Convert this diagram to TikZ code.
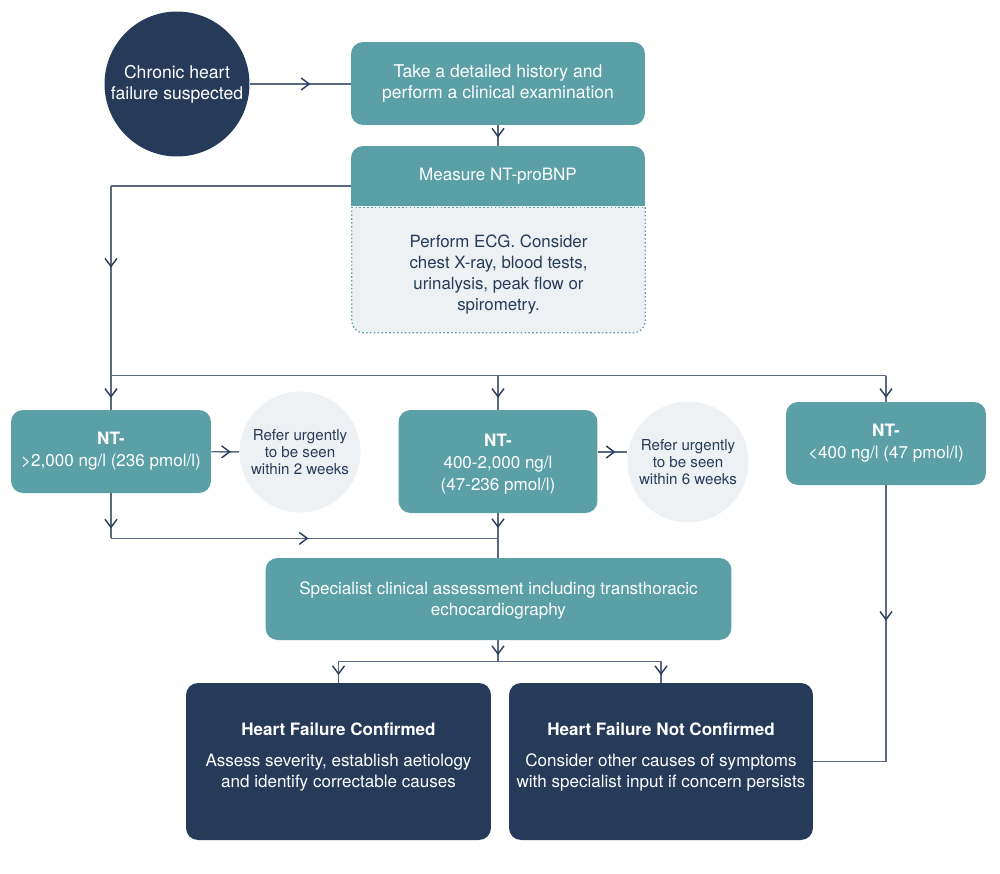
\documentclass[tikz,border=0pt]{standalone}
\usepackage{fontspec}
\setmainfont{TeX Gyre Heros}
\usetikzlibrary{arrows.meta,decorations.markings,calc,backgrounds}

\definecolor{tealc}{HTML}{5B9FA7}
\definecolor{navyc}{HTML}{263B59}
\definecolor{greyc}{HTML}{EEF1F4}
\definecolor{linec}{HTML}{5A6980}

\tikzset{
  basetext/.style={align=center, inner sep=0pt, font=\fontsize{9.7}{12.4}\selectfont},
  tealbox/.style={basetext, rectangle, rounded corners=0.24cm, fill=tealc, text=white},
  navybox/.style={basetext, rectangle, rounded corners=0.24cm, fill=navyc, text=white},
  navycirc/.style={basetext, circle, fill=navyc, text=white, font=\fontsize{10}{12}\selectfont},
  greycirc/.style={basetext, circle, fill=greyc, text=navyc, font=\fontsize{8.6}{9.8}\selectfont},
  link/.style={draw=linec, line width=0.8pt},
  midarrow/.style={postaction={decorate, decoration={markings,
      mark=at position #1 with {\arrow[navyc, line width=0.8pt]{Straight Barb[length=1.6mm,width=2.4mm]}}}}}
}

\begin{document}
\begin{tikzpicture}[x=0.02cm,y=-0.02cm]
\useasboundingbox (0,0) rectangle (1000,873);

% top row
\node[navycirc, minimum size=2.9cm] (suspect) at (177,84) {Chronic heart\\failure suspected};
\node[tealbox, minimum width=5.88cm, minimum height=1.66cm, font=\fontsize{10}{12}\selectfont] (history) at (498,83.5)
  {Take a detailed history and\\perform a clinical examination};
\node[tealbox, minimum width=5.88cm, minimum height=1.2cm] (measure) at (498,176) {Measure NT-proBNP};
\node[basetext, fill=greyc, rounded corners=0.24cm, text=navyc, minimum width=5.86cm, minimum height=2.5cm,
  font=\fontsize{9.6}{12}\selectfont] (tests) at (498.5,270)
  {\rule{0pt}{12.5pt}Perform ECG. Consider\\chest X-ray, blood tests,\\urinalysis, peak flow or\\spirometry.};
\begin{scope}[on background layer]
  \fill[tealc] (measure.west) rectangle (measure.south east);
  \fill[greyc] (tests.north west) rectangle (tests.east);
\end{scope}
\draw[tealc, line width=0.7pt, dash pattern=on 0.9pt off 1.3pt] (tests.north west) -- (tests.north east);
\draw[tealc, line width=0.7pt, dash pattern=on 0.9pt off 1.3pt, rounded corners=0.24cm]
  (tests.north east) -- (tests.south east) -- (tests.south west) -- (tests.north west);

% NT-proBNP levels
\node[tealbox, minimum width=4cm, minimum height=1.66cm] (high) at (111,451.5)
  {\textbf{NT-}\\>2,000 ng/l (236 pmol/l)};
\node[greycirc, minimum size=2.42cm] (refer2) at (300,452) {Refer urgently\\to be seen\\within 2 weeks};
\node[tealbox, minimum width=3.98cm, minimum height=2.06cm] (mid) at (498,461.5)
  {\rule{0pt}{10pt}\textbf{NT-}\\400-2,000 ng/l\\(47-236 pmol/l)};
\node[greycirc, minimum size=2.42cm] (refer6) at (688,462) {Refer urgently\\to be seen\\within 6 weeks};
\node[tealbox, minimum width=4cm, minimum height=1.66cm] (low) at (886,443.5)
  {\textbf{NT-}\\<400 ng/l (47 pmol/l)};

% assessment and outcomes
\node[tealbox, minimum width=9.32cm, minimum height=1.64cm] (spec) at (498.5,599)
  {\rule{0pt}{9pt}Specialist clinical assessment including transthoracic\\echocardiography};
\node[navybox, minimum width=6.1cm, minimum height=3.14cm] (conf) at (338.5,761.5)
  {\textbf{Heart Failure Confirmed}\\[5pt]Assess severity, establish aetiology\\and identify correctable causes\rule[-7pt]{0pt}{7pt}};
\node[navybox, minimum width=6.08cm, minimum height=3.14cm] (notconf) at (661,761.5)
  {\textbf{Heart Failure Not Confirmed}\\[5pt]Consider other causes of symptoms\\with specialist input if concern persists\rule[-7pt]{0pt}{7pt}};

% junctions
\coordinate (mleft) at ($(measure.west)+(0,10)$);
\coordinate (topL) at (high.north |- mleft);
\coordinate (splitL) at ($(high.north)+(0,-34)$);
\coordinate (splitM) at (mid.north |- splitL);
\coordinate (splitR) at (low.north |- splitL);
\coordinate (midout) at ($(mid.east)+(0,-9.5)$);
\coordinate (mergeL) at ($(high.south)+(0,45)$);
\coordinate (mergeR) at (mid.south |- mergeL);
\coordinate (splitB) at ($(spec.south)+(0,21)$);
\coordinate (cornerC) at (low.south |- notconf.east);

% connectors
\draw[link, midarrow=0.6] (suspect.east) -- (history.west |- suspect.east);
\draw[link, midarrow=0.6] (history) -- (measure);
\draw[link] (mleft) -- (topL);
\draw[link, midarrow=0.43] (topL) -- (splitL);
\draw[link, midarrow=0.65] (splitL) -- (high);
\draw[link] (splitL) -- (splitR);
\draw[link, midarrow=0.65] (splitM) -- (mid);
\draw[link, midarrow=0.85] (splitR) -- (low);
\draw[link, midarrow=0.7] (high) -- (refer2);
\draw[link, midarrow=0.6] (midout) -- (midout -| refer6.west);
\draw[link, midarrow=0.78] (high) -- (mergeL);
\draw[link, midarrow=0.51] (mergeL) -- (mergeR);
\draw[link, midarrow=0.33] (mid.south) -- (mid.south |- spec.north);
\draw[link, midarrow=0.7] (spec.south -| mid.south) -- (splitB -| mid.south);
\draw[link] (conf.north |- splitB) -- (notconf.north |- splitB);
\draw[link, midarrow=0.64] (conf.north |- splitB) -- (conf);
\draw[link, midarrow=0.64] (notconf.north |- splitB) -- (notconf);
\draw[link, midarrow=0.49] (low) -- (cornerC);
\draw[link] (cornerC) -- (notconf.east);
\end{tikzpicture}
\end{document}
